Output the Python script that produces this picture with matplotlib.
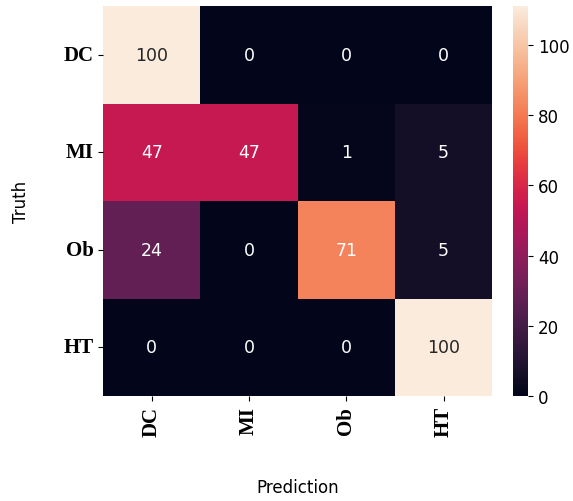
import numpy as np
import matplotlib
matplotlib.use("Agg")
import matplotlib.pyplot as plt
import matplotlib.cm as mcm
from matplotlib.colors import Normalize
import seaborn as sns

labels = ["DC", "MI", "Ob", "HT"]
cm = np.array([[100, 0, 0, 0],
               [47, 47, 1, 5],
               [24, 0, 71, 5],
               [0, 0, 0, 100]])

fig = plt.figure(figsize=(5.73, 5.02), dpi=100)
ax = fig.add_axes([0.18, 0.209, 0.679, 0.777])
cax = fig.add_axes([0.895, 0.209, 0.027, 0.777])

rocket = sns.color_palette("rocket", as_cmap=True)
# cell colours in the picture run brighter than the colour bar scale
sns.heatmap(cm, annot=True, fmt="d", cmap=rocket, vmin=0, vmax=96,
            ax=ax, cbar=False, annot_kws={"size": 12.5})
for t in ax.texts:
    t.set_color("#262626" if int(t.get_text()) >= 100 else "white")

sm = mcm.ScalarMappable(norm=Normalize(0, 111), cmap=rocket)
cb = fig.colorbar(sm, cax=cax)
cb.outline.set_visible(False)
cb.set_ticks([0, 20, 40, 60, 80, 100])
cax.tick_params(labelsize=12)

ax.set_xticklabels(labels, rotation=90, family="Liberation Serif",
                   fontweight="bold", fontsize=15)
ax.set_yticklabels(labels, rotation=0, family="Liberation Serif",
                   fontweight="bold", fontsize=15)
ax.set_xlabel("Prediction", fontsize=12, labelpad=30)
ax.set_ylabel("Truth", fontsize=12, labelpad=24)

fig.savefig("out.png", dpi=100)
